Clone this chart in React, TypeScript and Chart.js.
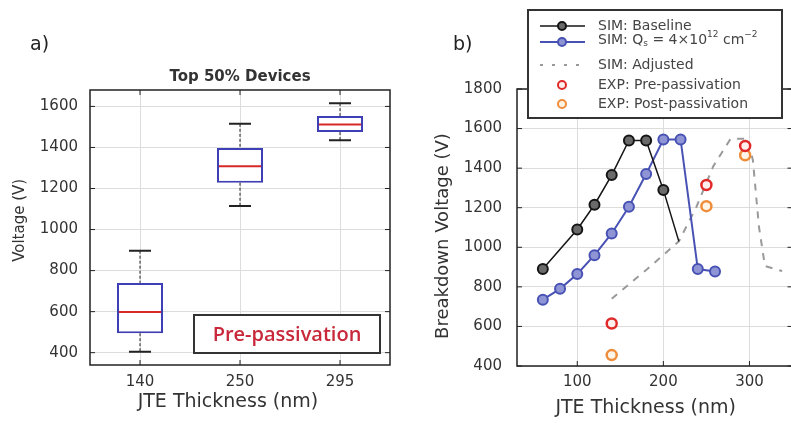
import React, { useEffect, useRef } from 'react';
import { Chart, registerables } from 'chart.js';
Chart.register(...registerables);

const FONT = '"DejaVu Sans", sans-serif';

// ---------- Panel a) : box plot ----------
const categoriesA = ['140', '250', '295'];
const whiskerLowA = [405, 1115, 1435];
const q1A = [495, 1228, 1475];
const medianA = [598, 1308, 1512];
const q3A = [740, 1397, 1553];
const whiskerHighA = [897, 1515, 1616];
const yTicksA = [400, 600, 800, 1000, 1200, 1400, 1600];

// ---------- Panel b) : breakdown voltage vs thickness ----------
const thicknessBaseline = [60, 100, 120, 140, 160, 180, 200, 218];
const voltageBaseline = [890, 1090, 1215, 1365, 1540, 1540, 1290, 1030];
const thicknessQs = [60, 80, 100, 120, 140, 160, 180, 200, 220, 240, 260];
const voltageQs = [735, 790, 865, 960, 1070, 1205, 1370, 1545, 1545, 890, 878];
const thicknessAdjusted = [140, 180, 218, 238, 258, 278, 298, 304, 311, 318, 338];
const voltageAdjusted = [740, 885, 1030, 1200, 1410, 1548, 1548, 1440, 1105, 905, 880];
const thicknessExp = [140, 250, 295];
const voltagePre = [615, 1315, 1512];
const voltagePost = [455, 1208, 1465];
const xTicksB = [100, 200, 300];
const yTicksB = [400, 600, 800, 1000, 1200, 1400, 1600, 1800];

const pts = (xs: number[], ys: number[]) => xs.map((x, i) => ({ x, y: ys[i] }));
const plain = (v: any) => String(v);

const framePlugin = {
  id: 'frame',
  afterDatasetsDraw(chart: any) {
    const { ctx, chartArea } = chart;
    const { left, right, top, bottom } = chartArea;
    ctx.save();
    ctx.strokeStyle = '#222';
    ctx.lineWidth = 1.5;
    ctx.strokeRect(left, top, right - left, bottom - top);
    ctx.lineWidth = 1;
    const xs = chart.scales.x;
    const ys = chart.scales.y;
    ctx.beginPath();
    xs.ticks.forEach((_t: any, i: number) => {
      const px = xs.getPixelForTick(i);
      ctx.moveTo(px, bottom); ctx.lineTo(px, bottom - 5);
      ctx.moveTo(px, top); ctx.lineTo(px, top + 5);
    });
    ys.ticks.forEach((_t: any, i: number) => {
      const py = ys.getPixelForTick(i);
      ctx.moveTo(left, py); ctx.lineTo(left + 5, py);
      ctx.moveTo(right, py); ctx.lineTo(right - 5, py);
    });
    ctx.stroke();
    ctx.restore();
  },
};

const boxPlugin = {
  id: 'boxWhiskers',
  afterDatasetsDraw(chart: any) {
    const ctx = chart.ctx;
    const meta = chart.getDatasetMeta(0);
    const ys = chart.scales.y;
    ctx.save();
    meta.data.forEach((bar: any, i: number) => {
      const x = bar.x;
      const hw = bar.width / 2;
      const cap = 11;
      const yHi = ys.getPixelForValue(whiskerHighA[i]);
      const yLo = ys.getPixelForValue(whiskerLowA[i]);
      const yQ3 = ys.getPixelForValue(q3A[i]);
      const yQ1 = ys.getPixelForValue(q1A[i]);
      const yMed = ys.getPixelForValue(medianA[i]);
      ctx.strokeStyle = '#222';
      ctx.lineWidth = 1;
      ctx.setLineDash([3, 2]);
      ctx.beginPath();
      ctx.moveTo(x, yHi); ctx.lineTo(x, yQ3);
      ctx.moveTo(x, yQ1); ctx.lineTo(x, yLo);
      ctx.stroke();
      ctx.setLineDash([]);
      ctx.lineWidth = 2;
      ctx.beginPath();
      ctx.moveTo(x - cap, yHi); ctx.lineTo(x + cap, yHi);
      ctx.moveTo(x - cap, yLo); ctx.lineTo(x + cap, yLo);
      ctx.stroke();
      ctx.strokeStyle = '#d82828';
      ctx.beginPath();
      ctx.moveTo(x - hw + 2, yMed); ctx.lineTo(x + hw - 2, yMed);
      ctx.stroke();
    });
    ctx.restore();
  },
};

const annotA = {
  id: 'annotA',
  afterDraw(chart: any) {
    const ctx = chart.ctx;
    ctx.save();
    ctx.fillStyle = '#222';
    ctx.font = `19px ${FONT}`;
    ctx.textAlign = 'left';
    ctx.textBaseline = 'middle';
    ctx.fillText('a)', 30, 45);
    const bx = 194, by = 315, bw = 186, bh = 38;
    ctx.fillStyle = '#fff';
    ctx.fillRect(bx, by, bw, bh);
    ctx.strokeStyle = '#333';
    ctx.lineWidth = 2;
    ctx.strokeRect(bx, by, bw, bh);
    ctx.fillStyle = '#c8283a';
    ctx.font = '600 20px "Open Sans", sans-serif';
    ctx.textAlign = 'center';
    ctx.fillText('Pre-passivation', bx + bw / 2, by + bh / 2 + 1);
    ctx.restore();
  },
};

function drawRich(ctx: any, x: number, y: number, parts: { t: string; s: number; dy: number }[]) {
  let cx = x;
  parts.forEach((p) => {
    ctx.font = `${p.s}px ${FONT}`;
    ctx.fillText(p.t, cx, y + p.dy);
    cx += ctx.measureText(p.t).width;
  });
}

const legendB = {
  id: 'legendB',
  afterDraw(chart: any) {
    const ctx = chart.ctx;
    const ds = chart.data.datasets;
    ctx.save();
    ctx.fillStyle = '#222';
    ctx.font = `19px ${FONT}`;
    ctx.textAlign = 'left';
    ctx.textBaseline = 'middle';
    ctx.fillText('b)', 53, 45);

    const bx = 128, by = 10, bw = 254, bh = 108;
    ctx.fillStyle = '#fff';
    ctx.fillRect(bx, by, bw, bh);
    ctx.strokeStyle = '#333';
    ctx.lineWidth = 2;
    ctx.strokeRect(bx, by, bw, bh);

    const sx0 = 140, sx1 = 185, mx = 162, tx = 198;
    const rows = [26, 42, 65, 85, 104];
    const lineRow = (d: any, y: number) => {
      ctx.strokeStyle = d.borderColor;
      ctx.lineWidth = d.borderWidth;
      ctx.beginPath(); ctx.moveTo(sx0, y); ctx.lineTo(sx1, y); ctx.stroke();
      ctx.beginPath(); ctx.arc(mx, y, 4, 0, Math.PI * 2);
      ctx.fillStyle = d.pointBackgroundColor; ctx.fill();
      ctx.lineWidth = 2; ctx.strokeStyle = d.borderColor; ctx.stroke();
    };
    lineRow(ds[2], rows[0]);
    lineRow(ds[3], rows[1]);
    ctx.strokeStyle = ds[4].borderColor;
    ctx.lineWidth = 2;
    ctx.setLineDash([3, 9]);
    ctx.beginPath(); ctx.moveTo(sx0, rows[2]); ctx.lineTo(sx1 + 3, rows[2]); ctx.stroke();
    ctx.setLineDash([]);
    [0, 1].forEach((k) => {
      const y = rows[3 + k];
      ctx.beginPath(); ctx.arc(mx, y, 4, 0, Math.PI * 2);
      ctx.fillStyle = ds[k].pointBackgroundColor; ctx.fill();
      ctx.lineWidth = 2; ctx.strokeStyle = ds[k].borderColor; ctx.stroke();
    });

    ctx.fillStyle = '#444';
    ctx.textAlign = 'left';
    ctx.textBaseline = 'middle';
    ctx.font = `14px ${FONT}`;
    ctx.fillText(ds[2].label, tx, rows[0]);
    drawRich(ctx, tx, rows[1] - 2, [
      { t: 'SIM: Q', s: 14, dy: 0 },
      { t: 's', s: 9, dy: 4 },
      { t: ' = 4×10', s: 14, dy: 0 },
      { t: '12', s: 9, dy: -5 },
      { t: ' cm', s: 14, dy: 0 },
      { t: '−2', s: 9, dy: -5 },
    ]);
    ctx.font = `14px ${FONT}`;
    ctx.fillText(ds[4].label, tx, rows[2]);
    ctx.fillText(ds[0].label, tx, rows[3]);
    ctx.fillText(ds[1].label, tx, rows[4]);
    ctx.restore();
  },
};

export default function App() {
  const aRef = useRef<HTMLCanvasElement>(null);
  const bRef = useRef<HTMLCanvasElement>(null);

  useEffect(() => {
    const gridColor = '#dcdcdc';
    const tickFont = { family: FONT, size: 15 };

    const ca = new Chart(aRef.current as HTMLCanvasElement, {
      type: 'bar',
      data: {
        labels: categoriesA,
        datasets: [
          {
            label: 'Top 50% Devices',
            data: q1A.map((v, i) => [v, q3A[i]]) as any,
            backgroundColor: '#ffffff',
            borderColor: '#3f3fb5',
            borderWidth: 2,
            borderSkipped: false,
            barPercentage: 0.46,
            categoryPercentage: 1,
          },
        ],
      },
      options: {
        responsive: false,
        animation: false,
        devicePixelRatio: 1,
        layout: { padding: { top: 60, right: 10, left: 0, bottom: 0 } },
        plugins: {
          legend: { display: false },
          tooltip: { enabled: false },
          title: {
            display: true,
            text: 'Top 50% Devices',
            fullSize: false,
            color: '#333',
            font: { family: FONT, size: 15, weight: 'bold' },
            padding: { top: 8, bottom: 4 },
          },
        },
        scales: {
          x: {
            type: 'category',
            grid: { color: gridColor, drawTicks: false, offset: false },
            border: { display: false },
            ticks: { color: '#333', font: tickFont, padding: 8 },
            title: {
              display: true,
              text: 'JTE Thickness (nm)    ',
              color: '#333',
              font: { family: FONT, size: 19 },
              padding: { top: 0, bottom: 10 },
            },
            afterFit: (s: any) => { s.height = 58; },
          },
          y: {
            min: 340,
            max: 1680,
            afterBuildTicks: (s: any) => { s.ticks = yTicksA.map((v) => ({ value: v })); },
            grid: { color: gridColor, drawTicks: false },
            border: { display: false },
            ticks: { color: '#333', font: tickFont, padding: 12, callback: plain },
            title: {
              display: true,
              text: '   Voltage (V)',
              color: '#333',
              font: { family: FONT, size: 15 },
              padding: { top: 11, bottom: 0 },
            },
            afterFit: (s: any) => { s.width = 90; },
          },
        },
      } as any,
      plugins: [boxPlugin, framePlugin, annotA],
    });

    const cb = new Chart(bRef.current as HTMLCanvasElement, {
      type: 'line',
      data: {
        datasets: [
          {
            label: 'EXP: Pre-passivation',
            data: pts(thicknessExp, voltagePre),
            showLine: false,
            borderColor: '#e02a2a',
            pointBorderColor: '#e02a2a',
            pointBackgroundColor: '#fff0ee',
            backgroundColor: '#fff0ee',
            pointRadius: 5,
            pointBorderWidth: 2.5,
          },
          {
            label: 'EXP: Post-passivation',
            data: pts(thicknessExp, voltagePost),
            showLine: false,
            borderColor: '#ef8d3a',
            pointBorderColor: '#ef8d3a',
            pointBackgroundColor: '#fff4e8',
            backgroundColor: '#fff4e8',
            pointRadius: 5,
            pointBorderWidth: 2.5,
          },
          {
            label: 'SIM: Baseline',
            data: pts(thicknessBaseline, voltageBaseline),
            borderColor: '#151515',
            borderWidth: 1.5,
            pointBorderColor: '#151515',
            pointBackgroundColor: '#6a6a6a',
            pointRadius: [5, 5, 5, 5, 5, 5, 5, 0],
            pointBorderWidth: 2,
          },
          {
            label: 'SIM: Qs = 4×10^12 cm^-2',
            data: pts(thicknessQs, voltageQs),
            borderColor: '#4852b4',
            borderWidth: 2,
            pointBorderColor: '#4852b4',
            pointBackgroundColor: '#8f95d4',
            pointRadius: 5,
            pointBorderWidth: 2,
          },
          {
            label: 'SIM: Adjusted',
            data: pts(thicknessAdjusted, voltageAdjusted),
            borderColor: '#9a9a9a',
            borderWidth: 2,
            borderDash: [7, 7],
            pointRadius: 0,
          },
        ],
      },
      options: {
        responsive: false,
        animation: false,
        devicePixelRatio: 1,
        layout: { padding: { top: 89, right: 6, left: 0, bottom: 0 } },
        plugins: { legend: { display: false }, tooltip: { enabled: false } },
        scales: {
          x: {
            type: 'linear',
            min: 30,
            max: 350,
            afterBuildTicks: (s: any) => { s.ticks = xTicksB.map((v) => ({ value: v })); },
            grid: { color: gridColor, drawTicks: false },
            border: { display: false },
            ticks: { color: '#333', font: tickFont, padding: 7, callback: plain },
            title: {
              display: true,
              text: 'JTE Thickness (nm)   ',
              color: '#333',
              font: { family: FONT, size: 19 },
              padding: { top: 0, bottom: 4 },
            },
            afterFit: (s: any) => { s.height = 57; },
          },
          y: {
            min: 400,
            max: 1800,
            afterBuildTicks: (s: any) => { s.ticks = yTicksB.map((v) => ({ value: v })); },
            grid: { color: gridColor, drawTicks: false },
            border: { display: false },
            ticks: { color: '#333', font: tickFont, padding: 15, callback: plain },
            title: {
              display: true,
              text: 'Breakdown Voltage (V)   ',
              color: '#333',
              font: { family: FONT, size: 18 },
              padding: { top: 33, bottom: 0 },
            },
            afterFit: (s: any) => { s.width = 117; },
          },
        },
      } as any,
      plugins: [framePlugin, legendB],
    });

    return () => {
      ca.destroy();
      cb.destroy();
    };
  }, []);

  return (
    <div
      style={{
        position: 'fixed',
        left: 0,
        top: 0,
        width: 791,
        height: 423,
        overflow: 'hidden',
        background: '#fff',
      }}
    >
      <canvas
        ref={aRef}
        width={400}
        height={423}
        style={{ position: 'absolute', left: 0, top: 0, width: 400, height: 423 }}
      />
      <canvas
        ref={bRef}
        width={400}
        height={423}
        style={{ position: 'absolute', left: 400, top: 0, width: 400, height: 423 }}
      />
    </div>
  );
}
